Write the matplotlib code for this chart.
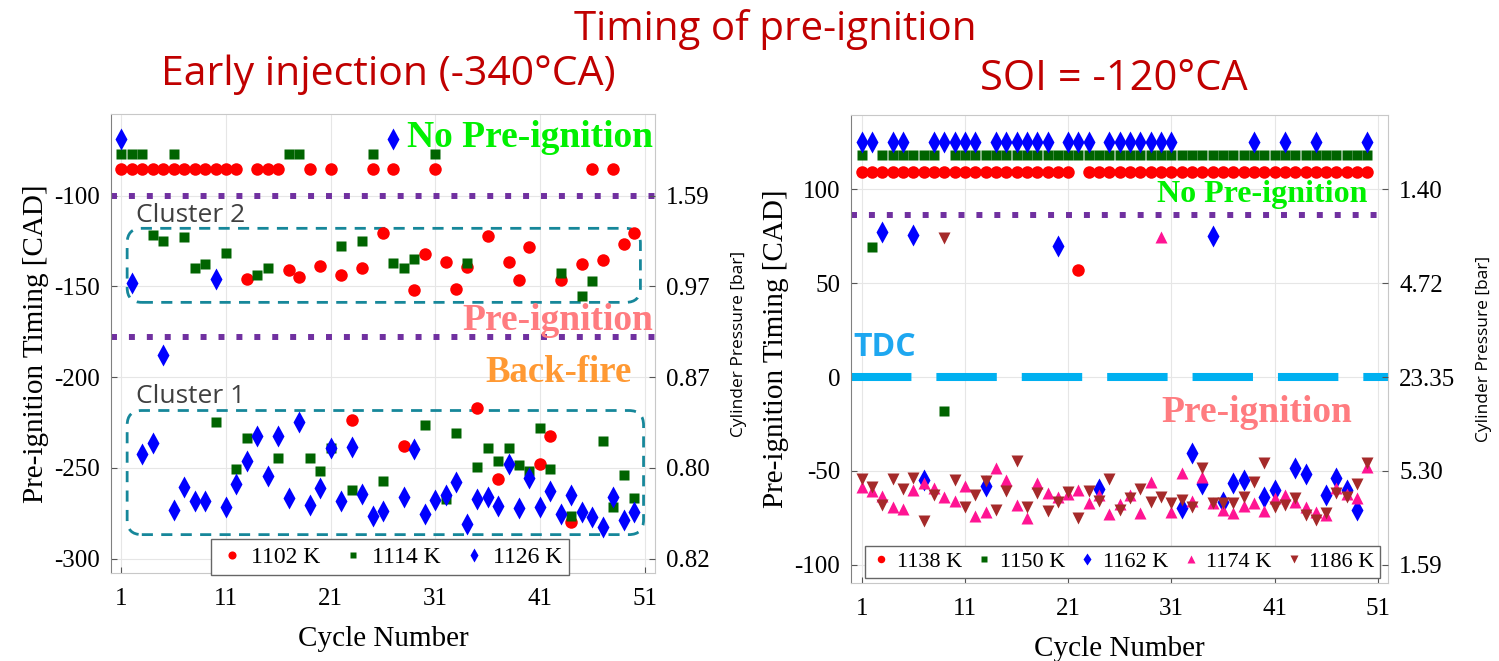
import matplotlib.pyplot as plt
from matplotlib.patches import FancyBboxPatch
import numpy as np

plt.rcParams["axes.unicode_minus"] = False

cycles = np.arange(1, 51)

# Early injection (-340 CA): pre-ignition timing per cycle [CAD]
t1102 = [-85.3] * 12 + [-146, -85.3, -85.3, -85.3, -140.8, -145, -85.3, -138.6,
                        -85.3, -143.7, -223.5, -140, -85.3, -120.5, -85.3, -237.7, -152.2, -131.9,
                        -85.3, -136.4, -151.6, -139.3, -216.9, -122, -256.4, -136.4, -146.5, -128.5,
                        -247.8, -232.2, -146.5, -279.6, -137.8, -85.3, -135.3, -85.3, -126.4, -120.5]
t1114 = [-76.8, -76.8, -76.8, -121.8, -125, -76.8, -122.8, -140, -137.5, -225,
         -131.4, -250.7, -233.4, -143.7, -139.9, -244.5, -76.8, -76.8, -244.5, -251.5,
         -239, -127.7, -262.1, -124.8, -76.8, -257, -136.9, -140, -134.9, -226.3,
         -76.8, -267.1, -230.7, -136.9, -249.3, -239.3, -246.5, -239.3, -248.7, -251.5,
         -227.9, -250.7, -142.8, -276.8, -155.1, -147.2, -235, -271.7, -253.7, -266.5]
t1126 = [-68.9, -147.9, -242.3, -236.2, -188, -273.1, -260.3, -268, -268, -146.1,
         -271.7, -258.8, -246, -232.2, -254.6, -232.7, -266.5, -225, -270.4, -261.2,
         -239, -268, -238.6, -264.3, -276.7, -273.9, -68.9, -265.8, -239.5, -275.4,
         -267.5, -264.7, -257.9, -281.2, -267.1, -265.8, -271.1, -247.8, -272, -255.7,
         -271.7, -262.9, -275.4, -265.2, -274.6, -277.2, -282.7, -265.8, -278.7, -274.5]

# SOI = -120 CA
t1138 = [109] * 21 + [57] + [109] * 28
t1150 = [118, 69.3, 118, 118, 118, 118, 118, 118, -17.9] + [118] * 41
t1162 = [125, 125, 77, 125, 125, 75.5, -54.8, 125, 125, 125,
         125, 125, -58, 125, 125, 125, 125, 125, 125, 69.7,
         125, 125, 125, -59.7, 125, 125, 125, 125, 125, 125,
         125, -69.9, -40.6, -56.9, 75, -66.3, -56.5, -54.8, 125, -64,
         -60.1, 125, -48.6, -51.6, 125, -62.8, -53.9, -60.1, -70.7, 125]
t1174 = [-58.7, -60.5, -63.3, -69, -70.4, -60.1, -56.5, -59.2, -63.7, -66,
         -58, -73.9, -71.6, -48.6, -54.8, -68.3, -75.2, -56.5, -61.9, -64,
         -62, -60.1, -67.2, -62.8, -73, -67.6, -62.8, -72.5, -55.7, 74.6,
         -71.6, -50.9, -66, -53, -66.8, -70.7, -72.5, -68.6, -67.2, -71.1,
         -64.5, -62.8, -66.3, -69, -71.6, -73.4, -59.2, -62, -64.5, -47.7]
t1186 = [-54.4, -58.3, -67.9, -54.4, -59.7, -53.9, -76.4, -62.8, 73.8, -54.8,
         -69, -62.8, -55.2, -70.7, -60.5, -44.5, -69.3, -61.9, -71.3, -66.3,
         -61.3, -74.8, -60.5, -65.8, -54.4, -70.7, -64.5, -59.6, -66.3, -64,
         -67.2, -65.4, -69, -48.6, -67, -67, -67, -63.7, -55.7, -45.9,
         -69, -68.1, -64.5, -73.4, -76.1, -72.2, -61.9, -64, -56.9, -45.9]

xticks = [1, 11, 21, 31, 41, 51]
left_yticks = [-100, -150, -200, -250, -300]
left_press = ["1.59", "0.97", "0.87", "0.80", "0.82"]
right_yticks = [100, 50, 0, -50, -100]
right_press = ["1.40", "4.72", "23.35", "5.30", "1.59"]

SERIF = "Liberation Serif"
SANS = "Open Sans"
TITLE_RED = "#c00000"
PURPLE = "#7030a0"
TEAL = "#16879a"

fig = plt.figure(figsize=(14.99, 6.61), dpi=100)


def style_axes(ax, yticks, press_labels, ylim):
    ax.set_xlim(0, 52)
    ax.set_ylim(*ylim)
    ax.set_xticks(xticks)
    ax.set_yticks(yticks)
    ax.grid(True, color="#e6e6e6", linewidth=0.8)
    ax.set_axisbelow(True)
    ax.tick_params(direction="in", length=4, color="#555555")
    ax.tick_params(axis="x", pad=11)
    ax.tick_params(axis="y", pad=8)
    for lab in ax.get_xticklabels() + ax.get_yticklabels():
        lab.set_fontfamily(SERIF)
        lab.set_fontsize(18)
    for s in ax.spines.values():
        s.set_color("#c8c8c8")
    ax.spines["left"].set_color("#808080")
    ax.set_xlabel("Cycle Number", fontfamily=SERIF, fontsize=21, labelpad=11)
    ax.set_ylabel("Pre-ignition Timing [CAD]", fontfamily=SERIF, fontsize=21, labelpad=4)

    ax2 = ax.twinx()
    ax2.set_ylim(*ylim)
    ax2.set_yticks(yticks)
    ax2.set_yticklabels(press_labels, fontfamily=SERIF, fontsize=18)
    ax2.tick_params(direction="in", length=4, pad=8, color="#555555")
    for s in ax2.spines.values():
        s.set_visible(False)
    ax2.set_ylabel("Cylinder Pressure [bar]", fontfamily=SANS, fontsize=12.5, labelpad=15)
    return ax2


# ---------------- left panel ----------------
ax1 = fig.add_axes([0.074, 0.133, 0.363, 0.6945])
ax1.axhline(-100, color=PURPLE, lw=4.3, ls=(0, (1, 2)), dash_capstyle="butt", zorder=1)
ax1.axhline(-178, color=PURPLE, lw=4.3, ls=(0, (1, 2)), dash_capstyle="butt", zorder=1)

for (x0, y0, x1, y1) in [(1.55, -158.8, 50.6, -118), (1.55, -286.8, 50.9, -218.4)]:
    box = FancyBboxPatch((x0, y0), x1 - x0, y1 - y0,
                         boxstyle="round,pad=0,rounding_size=1.4",
                         mutation_aspect=5.8, fill=False, edgecolor=TEAL,
                         lw=2, ls=(0, (4, 3)), zorder=2)
    ax1.add_patch(box)

ax1.plot(cycles, t1102, "o", color="red", ms=9, mec="none", label="1102 K", zorder=4)
ax1.plot(cycles, t1114, "s", color="#006400", ms=7, mec="none", label="1114 K", zorder=4)
ax1.plot(cycles, t1126, "d", color="blue", ms=11, mec="none", label="1126 K", zorder=4)

ax1.text(51.8, -68, "No Pre-ignition", color="#00f000", fontfamily=SERIF, fontweight="bold",
         fontsize=27, ha="right", va="center", zorder=5)
ax1.text(51.8, -168.7, "Pre-ignition", color="#ff7c80", fontfamily=SERIF, fontweight="bold",
         fontsize=27, ha="right", va="center", zorder=5)
ax1.text(49.8, -197.4, "Back-fire", color="#ff9933", fontfamily=SERIF, fontweight="bold",
         fontsize=26.5, ha="right", va="center", zorder=5)
ax1.text(2.4, -110.7, "Cluster 2", color="#404040", fontfamily=SANS, fontsize=19,
         ha="left", va="center", zorder=5)
ax1.text(2.4, -210.6, "Cluster 1", color="#404040", fontfamily=SANS, fontsize=19,
         ha="left", va="center", zorder=5)

style_axes(ax1, left_yticks, left_press, (-308, -55))
ax1.legend(loc="lower center", bbox_to_anchor=(0.513, -0.03), ncol=3,
           prop={"family": SERIF, "size": 17}, markerscale=0.65,
           handletextpad=0.2, columnspacing=0.8, handlelength=1.2,
           fancybox=False, edgecolor="#666666", framealpha=1, borderpad=0.3)

# ---------------- right panel ----------------
ax2 = fig.add_axes([0.568, 0.118, 0.358, 0.708])
ax2.axhline(86, color=PURPLE, lw=4.3, ls=(0, (1, 2)), dash_capstyle="butt", zorder=1)
ax2.axhline(0, color="#00b0f0", lw=5.8, ls=(0, (7.5, 3.1)), dash_capstyle="butt", zorder=1)

ax2.plot(cycles, t1138, "o", color="red", ms=9, mec="none", label="1138 K", zorder=4)
ax2.plot(cycles, t1150, "s", color="#006400", ms=7, mec="none", label="1150 K", zorder=4)
ax2.plot(cycles, t1162, "d", color="blue", ms=11, mec="none", label="1162 K", zorder=4)
ax2.plot(cycles, t1174, "^", color="#ff1493", ms=9, mec="none", label="1174 K", zorder=4)
ax2.plot(cycles, t1186, "v", color="#a52a2a", ms=9, mec="none", label="1186 K", zorder=4)

ax2.text(50, 97, "No Pre-ignition", color="#00f000", fontfamily=SERIF, fontweight="bold",
         fontsize=23, ha="right", va="center", zorder=5)
ax2.text(48.5, -19.1, "Pre-ignition", color="#ff7c80", fontfamily=SERIF, fontweight="bold",
         fontsize=27, ha="right", va="center", zorder=5)
ax2.text(0.2, 15.5, "TDC", color="#1ea7f0", fontfamily=SANS, fontweight="bold",
         fontsize=23, ha="left", va="center", zorder=5)

style_axes(ax2, right_yticks, right_press, (-109.6, 139.4))
ax2.legend(loc="lower center", bbox_to_anchor=(0.505, -0.012), ncol=5,
           prop={"family": SERIF, "size": 16}, markerscale=0.6,
           handletextpad=0.2, columnspacing=0.5, handlelength=1.0,
           fancybox=False, edgecolor="#666666", framealpha=1, borderpad=0.25)

# titles
fig.text(0.517, 0.955, "Timing of pre-ignition", color=TITLE_RED, fontfamily=SANS,
         fontsize=29, ha="center", va="center")
fig.text(0.259, 0.887, "Early injection (-340°CA)", color=TITLE_RED, fontfamily=SANS,
         fontsize=29.5, ha="center", va="center")
fig.text(0.743, 0.88, "SOI = -120°CA", color=TITLE_RED, fontfamily=SANS,
         fontsize=30, ha="center", va="center")

fig.savefig("out.png", dpi=100)
